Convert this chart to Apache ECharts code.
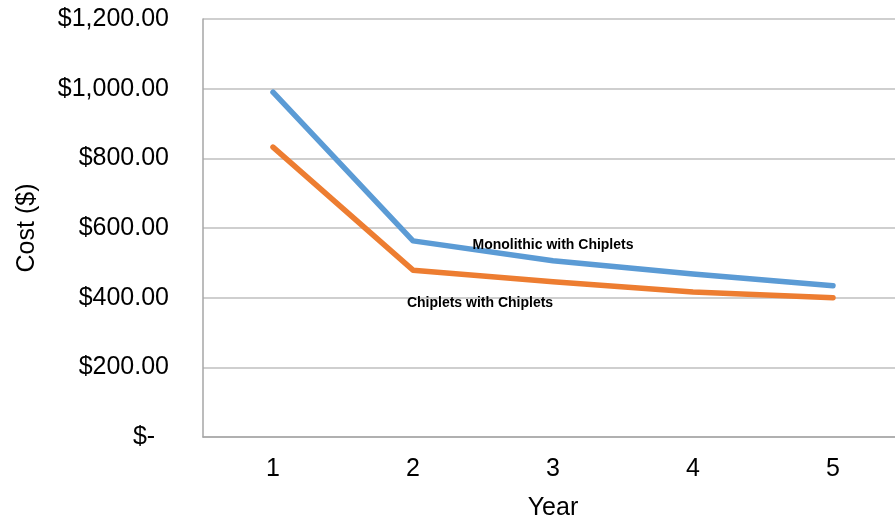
<!DOCTYPE html>
<html>
<head>
<meta charset="utf-8">
<script src="https://cdn.jsdelivr.net/npm/echarts@6/dist/echarts.min.js"></script>
<style>
  html, body { margin: 0; padding: 0; background: #fff; }
  #chart { width: 895px; height: 522px; }
</style>
</head>
<body>
<div id="chart"></div>
<script>
// Yearly cost of the two approaches
const years = ['1', '2', '3', '4', '5'];
const monolithicName = 'Monolithic with Chiplets';
const monolithicCost = [990, 563, 506, 468, 434];
const chipletsName = 'Chiplets with Chiplets';
const chipletsCost = [832, 479, 446, 416, 400];
const labelIndex = 2;

const FONT = '"Liberation Sans", Arial, sans-serif';

function money(v) {
  if (v === 0) return '$-  ';
  return '$' + v.toLocaleString('en-US', { minimumFractionDigits: 2, maximumFractionDigits: 2 });
}

// attach a series-name label to one point of the line
function withLabel(values, name, labelCfg) {
  return values.map((v, i) => i === labelIndex
    ? { value: v, label: Object.assign({ show: true, formatter: name, fontFamily: FONT, fontWeight: 'bold', fontSize: 14, color: '#000' }, labelCfg) }
    : v);
}

const chart = echarts.init(document.getElementById('chart'), null, { renderer: 'canvas' });
chart.setOption({
  animation: false,
  grid: { left: 203, top: 19, width: 700, height: 418, containLabel: false, outerBoundsMode: 'none' },
  xAxis: {
    type: 'category',
    data: years,
    boundaryGap: true,
    name: 'Year',
    nameLocation: 'middle',
    nameGap: 59,
    nameTextStyle: { fontFamily: FONT, fontSize: 25, color: '#000', align: 'center' },
    axisLine: { lineStyle: { color: '#a6a6a6', width: 1.5 } },
    axisTick: { show: false },
    axisLabel: { fontFamily: FONT, fontSize: 25, color: '#000', margin: 20 },
    splitLine: { show: false }
  },
  yAxis: {
    type: 'value',
    min: 0,
    max: 1200,
    interval: 200,
    name: 'Cost ($)',
    nameLocation: 'middle',
    nameGap: 163,
    nameRotate: 90,
    nameTextStyle: { fontFamily: FONT, fontSize: 25, color: '#000' },
    axisLine: { show: true, lineStyle: { color: '#a6a6a6', width: 1.5 } },
    axisTick: { show: false },
    axisLabel: { fontFamily: FONT, fontSize: 25, color: '#000', margin: 34, padding: [3, 0, 0, 0], formatter: money },
    splitLine: { lineStyle: { color: '#bfbfbf', width: 1.5 } }
  },
  series: [
    {
      name: monolithicName,
      type: 'line',
      data: withLabel(monolithicCost, monolithicName, { position: 'top', distance: 9 }),
      showSymbol: true,
      symbol: 'circle',
      symbolSize: 0,
      lineStyle: { color: '#5B9BD5', width: 5.5, cap: 'round', join: 'round' },
      itemStyle: { color: '#5B9BD5' },
      z: 3
    },
    {
      name: chipletsName,
      type: 'line',
      data: withLabel(chipletsCost, chipletsName, { position: 'bottom', distance: 14, offset: [-73, 0] }),
      showSymbol: true,
      symbol: 'circle',
      symbolSize: 0,
      lineStyle: { color: '#ED7D31', width: 5.5, cap: 'round', join: 'round' },
      itemStyle: { color: '#ED7D31' },
      z: 4
    }
  ]
});
</script>
</body>
</html>
